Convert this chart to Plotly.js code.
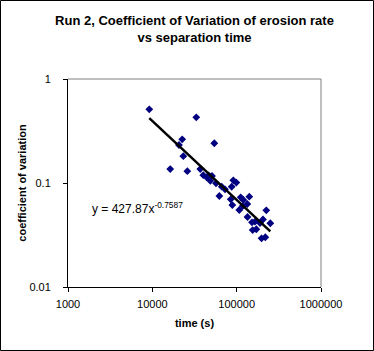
<!DOCTYPE html>
<html>
<head>
<meta charset="utf-8">
<script src="https://cdn.plot.ly/plotly-3.0.1.min.js"></script>
<style>
html,body{margin:0;padding:0;background:#fff;}
#chart{width:374px;height:351px;}
</style>
</head>
<body>
<div id="chart"></div>
<script>
// separation time (s)
const timeS = [9200, 33200, 22600, 20700, 54300, 23300, 16300, 26000, 37000, 40200,
  44100, 46600, 48700, 56900, 66500, 62300, 87300, 91200, 99100, 85000,
  88800, 111600, 119900, 141200, 133700, 107400, 118000, 134500, 152000, 164900,
  205200, 224500, 250600, 154900, 171000, 197200, 218600, 189200, 51000, 72700];
// coefficient of variation
const coefVar = [0.511, 0.428, 0.263, 0.232, 0.241, 0.181, 0.136, 0.130, 0.136, 0.119,
  0.1135, 0.118, 0.105, 0.0993, 0.0921, 0.075, 0.092, 0.106, 0.101, 0.0697,
  0.0614, 0.0729, 0.0687, 0.0738, 0.0628, 0.055, 0.060, 0.0471, 0.0419, 0.0425,
  0.0446, 0.0546, 0.041, 0.0353, 0.0359, 0.0294, 0.0301, 0.0412, 0.117, 0.0869];
// power trendline y = a * x^b
const trendCoef = 427.87;
const trendExp = -0.7587;
const xTickVals = [1000, 10000, 100000, 1000000];
const xTickText = ['1000', '10000', '100000', '1000000'];
const yTickVals = [0.01, 0.1, 1];
const yTickText = ['0.01', '0.1', '1'];

const xMin = Math.min.apply(null, timeS);
const xMax = Math.max.apply(null, timeS);
const trendX = [xMin, xMax];
const trendY = trendX.map(v => trendCoef * Math.pow(v, trendExp));

const FONT = 'Arial, "Liberation Sans", sans-serif';
const W = 374, H = 351;
const mL = 68, mR = 53, mT = 79, mB = 64;
const pw = W - mL - mR, ph = H - mT - mB;

const traces = [
  {
    x: timeS, y: coefVar, type: 'scatter', mode: 'markers',
    marker: {symbol: 'diamond', size: 6, color: '#000080', line: {width: 0}},
    hoverinfo: 'x+y', showlegend: false
  },
  {
    x: trendX, y: trendY, type: 'scatter', mode: 'lines',
    line: {color: '#000000', width: 2.5}, hoverinfo: 'skip', showlegend: false
  }
];

const layout = {
  width: W, height: H,
  margin: {l: mL, r: mR, t: mT, b: mB, pad: 0},
  paper_bgcolor: '#ffffff', plot_bgcolor: '#ffffff',
  font: {family: FONT, size: 11, color: '#000000'},
  showlegend: false,
  title: {
    text: 'Run 2, Coefficient of Variation of erosion rate<br>vs separation time',
    font: {family: FONT, size: 13, color: '#000000', weight: 'bold'},
    x: 0.5, xanchor: 'center', xref: 'paper',
    y: 1 - 25 / H, yanchor: 'top', yref: 'container'
  },
  xaxis: {
    type: 'log', range: [3, 6], autorange: false,
    tickvals: xTickVals, ticktext: xTickText,
    ticks: 'outside', ticklen: 4, tickwidth: 1, tickcolor: '#000',
    showline: true, linecolor: '#000', linewidth: 1,
    showgrid: false, zeroline: false,
    tickfont: {family: FONT, size: 11, color: '#000'},
    ticklabelstandoff: 3,
    title: {text: 'time (s)', font: {family: FONT, size: 11, color: '#000', weight: 'bold'}, standoff: 10}
  },
  yaxis: {
    type: 'log', range: [-2, 0], autorange: false,
    tickvals: yTickVals, ticktext: yTickText,
    ticks: 'outside', ticklen: 4, tickwidth: 1, tickcolor: '#000',
    showline: true, linecolor: '#000', linewidth: 1,
    showgrid: false, zeroline: false,
    tickfont: {family: FONT, size: 11, color: '#000'},
    ticklabelstandoff: 10,
    title: {text: 'coefficient of variation', font: {family: FONT, size: 11, color: '#000', weight: 'bold'}, standoff: 0}
  },
  shapes: [
    {type: 'line', xref: 'paper', yref: 'paper', x0: 0, x1: 1, y0: 1, y1: 1, line: {color: '#808080', width: 1}},
    {type: 'line', xref: 'paper', yref: 'paper', x0: 1, x1: 1, y0: 0, y1: 1, line: {color: '#808080', width: 1}},
    {type: 'rect', xref: 'paper', yref: 'paper',
      x0: (0.5 - mL) / pw, x1: (W - 0.5 - mL) / pw,
      y0: (ph + mT - (H - 0.5)) / ph, y1: (ph + mT - 0.5) / ph,
      line: {color: '#000000', width: 1}, fillcolor: 'rgba(0,0,0,0)'}
  ],
  annotations: [
    {
      xref: 'paper', yref: 'paper', x: (90 - mL) / pw, y: (mT + ph - 208) / ph,
      xanchor: 'left', yanchor: 'middle', showarrow: false,
      text: 'y = ' + trendCoef.toFixed(2) + 'x<sup>' + trendExp.toFixed(4) + '</sup>',
      font: {family: FONT, size: 12, color: '#000'}
    }
  ]
};

Plotly.newPlot('chart', traces, layout, {staticPlot: true, displayModeBar: false});
</script>
</body>
</html>
